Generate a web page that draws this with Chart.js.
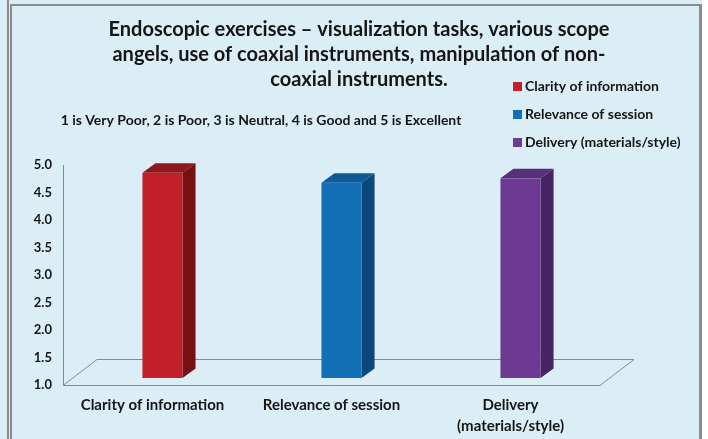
<!DOCTYPE html>
<html>
<head>
<meta charset="utf-8">
<script src="https://cdn.jsdelivr.net/npm/chart.js@4.4.0/dist/chart.umd.min.js"></script>
<style>
  html, body { margin: 0; padding: 0; background: #fff; }
  #wrap { width: 708px; height: 439px; }
</style>
</head>
<body>
<div id="wrap"><canvas id="ratingChart" width="708" height="439"></canvas></div>
<script>
// data
const categories = ['Clarity of information', 'Relevance of session', 'Delivery (materials/style)'];
const axisLabels = [['Clarity of information'], ['Relevance of session'], ['Delivery', '(materials/style)']];
const ratings = [4.73, 4.55, 4.63];
const yMin = 1.0;
const yMax = 5.0;
const yStep = 0.5;
const titleLines = [
  'Endoscopic exercises \u2013 visualization tasks, various scope',
  'angels, use of coaxial instruments, manipulation of non-',
  'coaxial instruments.'
];
const subtitleText = '1 is Very Poor, 2 is Poor, 3 is Neutral, 4 is Good and 5 is Excellent';

// colours per bar: front / top / side
const frontColors = ['#c1202a', '#136fb6', '#6d3993'];
const topColors = ['#8e181d', '#0c5a98', '#56307a'];
const sideColors = ['#761013', '#0a477a', '#452461'];

const FONT = 'Lato, "Open Sans", sans-serif';
const TEXT = '#151515';
const BG = '#dbeef6';
const LINE = '#8a8a8a';

// floor depth and bar depth (in px)
const floorDx = 34, floorDy = 26;
const barOffX = 10, barOffY = 7;
const barDx = 13, barDy = 9.5;

const framePlugin = {
  id: 'frame',
  beforeDraw(chart) {
    const c = chart.ctx;
    c.save();
    c.fillStyle = BG;
    c.fillRect(0, 0, chart.width, chart.height);
    c.fillStyle = '#ffffff';
    c.fillRect(702, 0, chart.width - 702, chart.height);
    c.fillStyle = '#8c8c8c';
    c.fillRect(7, 0, 2, chart.height);
    c.fillRect(10, 4, 2, chart.height - 4);
    c.fillRect(10, 4, 692, 2);
    c.fillRect(699, 4, 3, chart.height - 4);
    c.restore();
  }
};

const floorPlugin = {
  id: 'floor',
  beforeDatasetsDraw(chart) {
    const a = chart.chartArea;
    const c = chart.ctx;
    c.save();
    c.strokeStyle = LINE;
    c.lineWidth = 1;
    c.beginPath();
    c.moveTo(a.left, a.bottom + 0.5);
    c.lineTo(a.right, a.bottom + 0.5);
    c.lineTo(a.right + floorDx, a.bottom - floorDy + 0.5);
    c.lineTo(a.left + floorDx, a.bottom - floorDy + 0.5);
    c.lineTo(a.left, a.bottom + 0.5);
    c.stroke();
    c.restore();
  }
};

const bar3dPlugin = {
  id: 'bar3d',
  beforeDatasetDraw() {
    return false;
  },
  afterDatasetsDraw(chart) {
    const c = chart.ctx;
    const meta = chart.getDatasetMeta(0);
    meta.data.forEach((bar, i) => {
      const p = bar.getProps(['x', 'y', 'base', 'width'], true);
      const x0 = p.x - p.width / 2 + barOffX;
      const x1 = p.x + p.width / 2 + barOffX;
      const yt = p.y - barOffY;
      const yb = p.base - barOffY;
      c.save();
      // side
      c.fillStyle = sideColors[i];
      c.beginPath();
      c.moveTo(x1, yt);
      c.lineTo(x1 + barDx, yt - barDy);
      c.lineTo(x1 + barDx, yb - barDy);
      c.lineTo(x1, yb);
      c.closePath();
      c.fill();
      // top
      c.fillStyle = topColors[i];
      c.beginPath();
      c.moveTo(x0, yt);
      c.lineTo(x0 + barDx, yt - barDy);
      c.lineTo(x1 + barDx, yt - barDy);
      c.lineTo(x1, yt);
      c.closePath();
      c.fill();
      // front
      c.fillStyle = frontColors[i];
      c.fillRect(x0, yt, x1 - x0, yb - yt);
      c.restore();
    });
  }
};

const textPlugin = {
  id: 'texts',
  afterDraw(chart) {
    const c = chart.ctx;
    c.save();
    c.fillStyle = TEXT;
    c.textAlign = 'center';
    c.textBaseline = 'middle';
    c.font = 'bold 20px ' + FONT;
    titleLines.forEach((t, i) => c.fillText(t, 359, 30 + i * 25));
    c.font = 'bold 14px ' + FONT;
    c.fillText(subtitleText, 261, 120);

    // legend
    c.textAlign = 'left';
    c.font = 'bold 14px ' + FONT;
    categories.forEach((name, i) => {
      const cy = 86 + i * 28;
      c.fillStyle = frontColors[i];
      c.fillRect(513, cy - 4, 9, 9);
      c.fillStyle = TEXT;
      c.fillText(name, 525, cy + 0.5);
    });
    c.restore();
  }
};

const ctx = document.getElementById('ratingChart');
new Chart(ctx, {
  type: 'bar',
  data: {
    labels: axisLabels,
    datasets: [{
      label: 'Rating',
      data: ratings,
      base: yMin,
      backgroundColor: frontColors,
      categoryPercentage: 1,
      barPercentage: 0.224
    }]
  },
  options: {
    responsive: false,
    animation: false,
    layout: {
      padding: { left: 12, top: 165, right: 108, bottom: 0 }
    },
    scales: {
      x: {
        grid: { display: false, drawTicks: false },
        border: { display: false },
        ticks: {
          color: TEXT,
          padding: 10,
          maxRotation: 0,
          autoSkip: false,
          font: { family: FONT, size: 15, weight: 'bold', lineHeight: 1.4 }
        },
        afterFit(scale) { scale.height = 54; }
      },
      y: {
        min: yMin,
        max: yMax,
        grid: { display: false, drawTicks: false },
        border: { display: true, color: LINE },
        ticks: {
          stepSize: yStep,
          color: TEXT,
          padding: 11,
          font: { family: FONT, size: 13, weight: 'bold' },
          callback: v => Number(v).toFixed(1)
        },
        afterFit(scale) { scale.width = 51; }
      }
    },
    plugins: {
      legend: { display: false },
      title: { display: false },
      tooltip: { enabled: false }
    }
  },
  plugins: [framePlugin, floorPlugin, bar3dPlugin, textPlugin]
});
</script>
</body>
</html>
